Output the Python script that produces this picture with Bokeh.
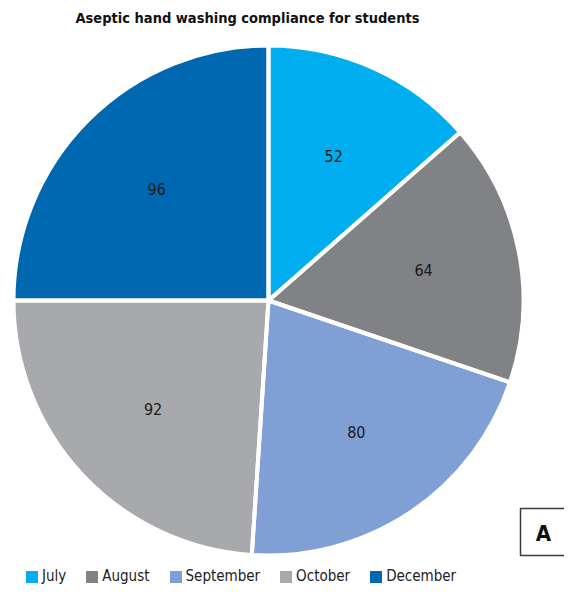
import numpy as np
from bokeh.plotting import figure
from bokeh.models import Range1d, Legend, LegendItem, ColumnDataSource
from bokeh.core.properties import value
from bokeh.embed import file_html
from bokeh.resources import INLINE

# ---- data ----
title_text = "Aseptic hand washing compliance for students"
months = ["July", "August", "September", "October", "December"]
counts = [52, 64, 80, 92, 96]
colors = ["#00AEEF", "#808285", "#7F9FD5", "#A7A9AC", "#0067B1"]
panel_letter = "A"

W, H = 564, 589
FONT = "'DejaVu Sans Condensed', Roboto, sans-serif"

p = figure(width=W, height=H, output_backend="svg", toolbar_location=None,
           x_range=Range1d(0, W), y_range=Range1d(0, H),
           x_axis_type=None, y_axis_type=None, min_border=0)
p.grid.visible = False
p.outline_line_color = None
p.background_fill_color = "white"

cx, cy, R = 268.0, 289.0, 255.0

vals = np.array(counts, dtype=float)
frac = vals / vals.sum()
theta_end = np.cumsum(frac) * 2 * np.pi
theta_start = theta_end - frac * 2 * np.pi
start = np.pi / 2 - theta_start
end = np.pi / 2 - theta_end
mid = (theta_start + theta_end) / 2

src = ColumnDataSource(dict(x=[cx] * len(counts), y=[cy] * len(counts),
                            start=start, end=end, color=colors,
                            month=months, count=[str(c) for c in counts],
                            lx=cx + 0.62 * R * np.sin(mid),
                            ly=cy + 0.62 * R * np.cos(mid)))

fill_r = p.wedge(x="x", y="y", radius=R, start_angle="start", end_angle="end",
                 direction="clock", fill_color="color", line_color=None, source=src)
p.wedge(x="x", y="y", radius=R, start_angle="start", end_angle="end",
        direction="clock", fill_color=None, line_color="white", line_width=4,
        line_join="round", source=src)

p.text(x="lx", y="ly", text="count", source=src, text_align="center",
       text_baseline="middle", text_font_size="16px", text_color="#1a1a1a",
       text_font=value(FONT))

# title
p.text(x=[247], y=[572], text=[title_text], text_align="center",
       text_baseline="middle", text_font_size="14.5px", text_font_style="bold",
       text_color="#111111", text_font=value(FONT))

# panel letter box
p.rect(x=[520 + 30], y=[57.5], width=60, height=47, fill_color="white",
       line_color="#3a3a3a", line_width=1.5)
p.text(x=[543], y=[56], text=[panel_letter], text_align="center",
       text_baseline="middle", text_font_size="22px", text_font_style="bold",
       text_color="#111111", text_font=value(FONT))

items = [LegendItem(label=m, renderers=[fill_r], index=i) for i, m in enumerate(months)]
legend = Legend(items=items, orientation="horizontal", location=(24, 4),
                glyph_width=15, glyph_height=15, label_standoff=3, spacing=18,
                padding=0, margin=0, border_line_color=None,
                background_fill_alpha=0, label_text_font_size="15px",
                label_text_font=FONT, label_text_color="#222222",
                label_height=15)
p.add_layout(legend, "center")

open("out.html", "w").write(file_html(p, INLINE))
